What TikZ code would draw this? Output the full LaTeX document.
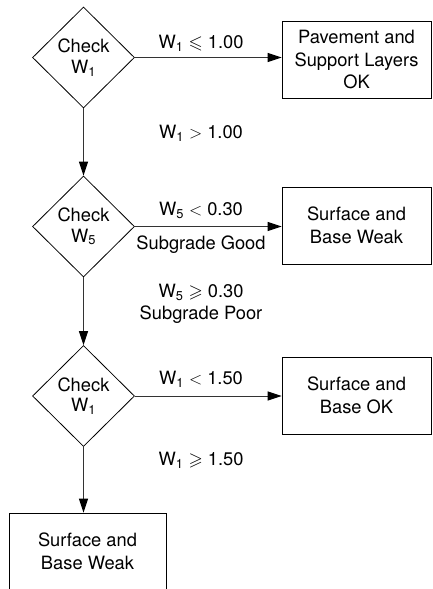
\documentclass[tikz,border=0pt]{standalone}
\usepackage{amssymb}
\usepackage{fontspec}
\setmainfont{TeX Gyre Heros}
\usetikzlibrary{shapes.geometric,arrows.meta}
\begin{document}
\begin{tikzpicture}[x=1pt,y=-1pt,
  every node/.style={font=\fontsize{18.3}{22.5}\selectfont},
  dec/.style={draw,line width=0.8pt,diamond,minimum width=102pt,minimum height=101pt,inner sep=0pt,align=center},
  res/.style={draw,line width=0.8pt,rectangle,minimum width=149pt,minimum height=77pt,inner sep=0pt,align=center},
  lbl/.style={align=center,inner sep=0pt},
  flow/.style={draw=black!80,line width=1pt,-{Triangle[length=14pt,width=9pt,color=black]}}
]
\useasboundingbox (0,0) rectangle (432,589);
% decisions
\node[dec] (d1) at (83.5,57.5) {Check\\[-2pt]W\textsubscript{1}};
\node[dec] (d2) at (83.5,226.5) {Check\\[-2pt]W\textsubscript{5}};
\node[dec] (d3) at (83.5,396) {Check\\[-2pt]W\textsubscript{1}};
% results
\node[res] (b1) at (356.5,59.5) {Pavement and\\Support Layers\\OK};
\node[res] (b2) at (356.5,225.5) {Surface and\\Base Weak};
\node[res] (b3) at (356.5,395.5) {Surface and\\Base OK};
\node[res,minimum width=157pt,minimum height=84pt] (b4) at (87.5,555) {};
\node[lbl] (t4) at (87.5,551.5) {Surface and\\Base Weak};
% connectors
\draw[flow] (d1.east) -- (d1.east -| b1.west);
\draw[flow] (d2.east) -- (d2.east -| b2.west);
\draw[flow] (d3.east) -- (d3.east -| b3.west);
\draw[flow] (d1.south) -- (d2.north);
\draw[flow] (d2.south) -- (d3.north);
\draw[flow] (d3.south) -- (d3.south |- b4.north);
% labels
\node[lbl] (l1) at (201,43) {W\textsubscript{1} $\leqslant$ 1.00};
\node[lbl] (l2) at (201,133) {W\textsubscript{1} $>$ 1.00};
\node[lbl] (l3) at (201,210) {W\textsubscript{5} $<$ 0.30};
\node[lbl] (l4) at (201,245) {Subgrade Good};
\node[lbl] (l5) at (201,304) {W\textsubscript{5} $\geqslant$ 0.30\\Subgrade Poor};
\node[lbl] (l6) at (201,379) {W\textsubscript{1} $<$ 1.50};
\node[lbl] (l7) at (201,460) {W\textsubscript{1} $\geqslant$ 1.50};
\end{tikzpicture}
\end{document}
